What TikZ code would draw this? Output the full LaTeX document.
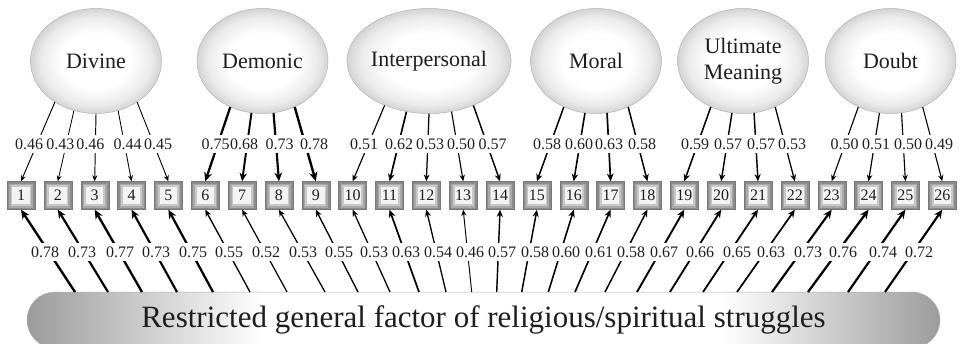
\documentclass[tikz,border=0pt]{standalone}
\usepackage{fontspec}
\setmainfont{Liberation Serif}
\usetikzlibrary{arrows.meta,shapes.geometric,shapes.misc}
\definecolor{g0}{HTML}{777777}
\definecolor{g1}{HTML}{8C8C8C}
\definecolor{g2}{HTML}{A8A8A8}
\definecolor{g3}{HTML}{C8C8C8}
\definecolor{g4}{HTML}{F3F3F3}
\definecolor{txt}{HTML}{1E1E1E}
\pgfdeclareradialshading{ellsh}{\pgfpoint{0bp}{0bp}}{color(0bp)=(white); color(13bp)=(white); color(21bp)=(gray!16); color(25bp)=(gray!34); color(50bp)=(gray!34)}
\pgfdeclarehorizontalshading{barsh}{100bp}{color(0bp)=(gray!78); color(25bp)=(gray!78); color(38bp)=(white); color(63bp)=(white); color(75bp)=(gray!78); color(100bp)=(gray!78)}
\tikzset{
  ell/.style={ellipse, minimum width=131pt, minimum height=105pt, inner sep=0pt,
    shade, shading=ellsh, draw=gray!60, line width=0.5pt, text=txt,
    font=\fontsize{22}{26}\selectfont, align=center},
  box/.style={rectangle, minimum size=28pt, inner sep=0pt, fill=g1, draw=g0, line width=0.4pt,
    font=\fontsize{16}{16}\selectfont, text=txt,
    path picture={
      \fill[g2] ([shift={(2pt,2pt)}]path picture bounding box.south west) rectangle ([shift={(-2pt,-2pt)}]path picture bounding box.north east);
      \fill[g3] ([shift={(3.6pt,3.6pt)}]path picture bounding box.south west) rectangle ([shift={(-3.6pt,-3.6pt)}]path picture bounding box.north east);
      \fill[g4] ([shift={(5.3pt,5.3pt)}]path picture bounding box.south west) rectangle ([shift={(-5.3pt,-5.3pt)}]path picture bounding box.north east);
    }},
  ld/.style={line width={(#1-0.25)*4.5pt}, -{Stealth[length=4pt 2.2, width=3pt 2.2]}},
  lbl/.style={fill=white, inner xsep=0.8pt, inner ysep=4pt, text=txt, font=\fontsize{16}{16}\selectfont},
  gen/.style={rounded rectangle, minimum width=913pt, minimum height=56pt, inner sep=0pt,
    shade, shading=barsh, draw=gray!60, line width=0.5pt, text=txt, font=\fontsize{31}{31}\selectfont}
}
\begin{document}
\begin{tikzpicture}[x=1pt,y=-1pt]
\useasboundingbox (0,0) rectangle (963,343);
\clip (0,0) rectangle (963,343);
% latent factors
\node[ell] (E1) at (96,61) {Divine};
\node[ell] (E2) at (262.5,61) {Demonic};
\node[ell] (E3) at (429,61) {Interpersonal};
\node[ell] (E4) at (596,61) {Moral};
\node[ell] (E5) at (743,61) {Ultimate\\Meaning};
\node[ell] (E6) at (890.5,61) {Doubt};
% general factor
\node[gen] (G) at (483.5,320) {Restricted general factor of religious/spiritual struggles};
% items
\foreach \i in {1,...,26} \node[box] (B\i) at ({21+36.85*(\i-1)},195.5) {\i};
% specific loadings
\foreach \e/\a/\b/\l in {E1/225/1/0.46, E1/246/2/0.43, E1/270/3/0.46, E1/294/4/0.44, E1/315/5/0.45,
  E2/235/6/0.75, E2/258/7/0.68, E2/282/8/0.73, E2/305/9/0.78,
  E3/225/10/0.51, E3/246/11/0.62, E3/270/12/0.53, E3/294/13/0.50, E3/315/14/0.57,
  E4/235/15/0.58, E4/258/16/0.60, E4/282/17/0.63, E4/305/18/0.58,
  E5/235/19/0.59, E5/258/20/0.57, E5/282/21/0.57, E5/305/22/0.53,
  E6/235/23/0.50, E6/258/24/0.51, E6/282/25/0.50, E6/305/26/0.49}
  \draw[ld=\l] (\e.\a) -- (B\b.north);
\foreach \l/\lx in {0.46/29, 0.43/60.3, 0.46/90.3, 0.44/127.5, 0.45/158,
  0.75/215.5, 0.68/244, 0.73/279.5, 0.78/314,
  0.51/364, 0.62/399, 0.53/430, 0.50/461, 0.57/492.5,
  0.58/547, 0.60/579, 0.63/609, 0.58/642,
  0.59/695, 0.57/728, 0.57/761, 0.53/792,
  0.50/844.5, 0.51/876, 0.50/908, 0.49/939}
  \node[lbl] at (\lx,144) {\l};
% general loadings
\foreach \b/\xs/\l in {1/75/0.78, 2/108/0.73, 3/142/0.77, 4/177/0.73, 5/213/0.75, 6/250/0.55,
  7/287/0.52, 8/325/0.53, 9/358/0.55, 10/390/0.53, 11/419/0.63, 12/446/0.54, 13/471.7/0.46,
  14/496.7/0.57, 15/521.7/0.58, 16/548.3/0.60, 17/575/0.61, 18/605/0.58, 19/637/0.67,
  20/670/0.66, 21/703/0.65, 22/737/0.63, 23/772/0.73, 24/808/0.76, 25/848/0.74, 26/885/0.72}
{
  \coordinate (S\b) at (\xs,292);
  \draw[ld=\l] (S\b) -- (B\b.south);
}
\foreach \l/\lx in {0.78/45, 0.73/82, 0.77/120, 0.73/156, 0.75/193, 0.55/229, 0.52/266, 0.53/303,
  0.55/339, 0.53/374, 0.63/406, 0.54/438, 0.46/470, 0.57/502, 0.58/535, 0.60/566, 0.61/599,
  0.58/631, 0.67/664, 0.66/700, 0.65/737, 0.63/771, 0.73/808, 0.76/843, 0.74/883, 0.72/919}
  \node[lbl] at (\lx,252) {\l};
\end{tikzpicture}
\end{document}
